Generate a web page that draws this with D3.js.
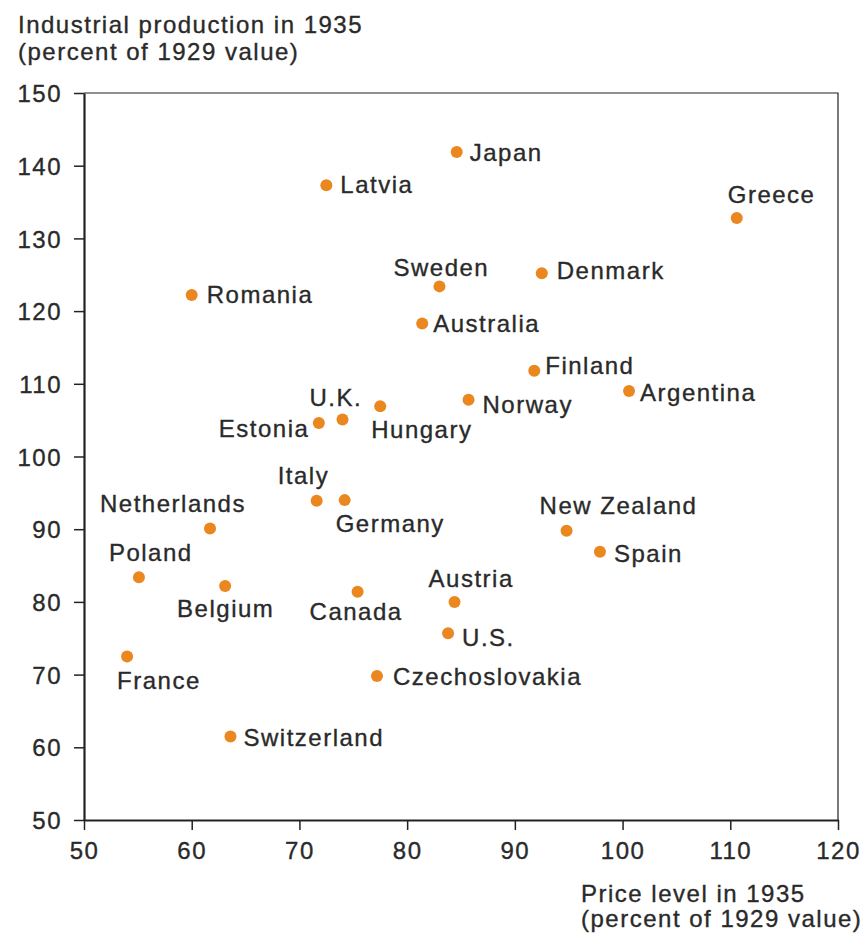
<!DOCTYPE html>
<html>
<head>
<meta charset="utf-8">
<script src="https://cdn.jsdelivr.net/npm/d3@7"></script>
<style>
    body { margin: 0; background: #fff; }
    svg text {
        font-family: "Liberation Sans", Arial, Helvetica, sans-serif;
        font-size: 24px;
        letter-spacing: 1.5px;
        fill: #2a2a2a;
        stroke: #2a2a2a;
        stroke-width: 0.35px;
    }
</style>
</head>
<body>
<svg id="viz_scatter"></svg>
<script>
// Values
var countries = ["Japan", "Latvia", "Greece", "Sweden", "Denmark", "Romania", "Australia",
    "Finland", "Argentina", "Norway", "Hungary", "U.K.", "Estonia", "Italy", "Germany",
    "Netherlands", "New Zealand", "Spain", "Poland", "Belgium", "Canada", "Austria",
    "U.S.", "France", "Czechoslovakia", "Switzerland"];

var price_level = [84.6, 72.5, 110.6, 83.0, 92.5, 60.0, 81.4,
    91.8, 100.6, 85.7, 77.5, 74.0, 71.8, 71.6, 74.2,
    61.7, 94.8, 97.9, 55.1, 63.1, 75.4, 84.4,
    83.8, 54.0, 77.2, 63.6];

var production = [141.9, 137.3, 132.8, 123.4, 125.2, 122.2, 118.3,
    111.8, 109.0, 107.8, 106.9, 105.1, 104.6, 93.9, 94.0,
    90.1, 89.8, 86.9, 83.4, 82.2, 81.4, 80.0,
    75.7, 72.5, 69.8, 61.5];

var x_ticks = [50, 60, 70, 80, 90, 100, 110, 120];
var y_ticks = [50, 60, 70, 80, 90, 100, 110, 120, 130, 140, 150];

var y_title = ["Industrial production in 1935", "(percent of 1929 value)"];
var x_title = ["Price level in 1935", "(percent of 1929 value)"];

// label placement, offset of text start/baseline from the dot
var label_offset = {
    "Japan": [13, 9], "Latvia": [14, 8], "Greece": [-9, -15], "Sweden": [-46, -10],
    "Denmark": [15, 6], "Romania": [15, 8], "Australia": [11, 9], "Finland": [11, 3],
    "Argentina": [11, 10], "Norway": [14, 13], "Hungary": [-9, 32], "U.K.": [-33, -13],
    "Estonia": [-100, 14], "Italy": [-39, -17], "Germany": [-9, 32], "Netherlands": [-110, -16],
    "New Zealand": [-27, -17], "Spain": [14, 10], "Poland": [-30, -16], "Belgium": [-48, 31],
    "Canada": [-48, 28], "Austria": [-26, -15], "U.S.": [14, 13], "France": [-10, 33],
    "Czechoslovakia": [16, 9], "Switzerland": [13, 10]
};

var width = 865,
    height = 938;
var margin = ({top: 93, right: 27, bottom: 118, left: 84});

var data = countries.map((name, i) => ({
    "name": name,
    "price": price_level[i],
    "prod": production[i]
}));

var x = d3.scaleLinear()
    .domain([50, 120])
    .range([margin.left, width - margin.right]);

var y = d3.scaleLinear()
    .domain([50, 150])
    .range([height - margin.bottom, margin.top]);

var svg = d3.select("#viz_scatter")
    .attr("width", width)
    .attr("height", height);

// frame: thin top/right, heavier axes
svg.append("path")
    .attr("d", `M${x(50)},${y(150)}H${x(120)}V${y(50)}`)
    .attr("fill", "none")
    .attr("stroke", "#222")
    .attr("stroke-width", 1.2);

var xAxis = g => g
    .attr("transform", `translate(0,${y(50)})`)
    .call(d3.axisBottom(x).tickValues(x_ticks).tickSize(10).tickPadding(12).tickSizeOuter(0))
    .call(g => g.select(".domain").attr("stroke", "#222").attr("stroke-width", 2.2))
    .call(g => g.selectAll(".tick line").attr("stroke", "#222").attr("stroke-width", 1.5))
    .attr("font-size", null)
    .attr("font-family", null);

var yAxis = g => g
    .attr("transform", `translate(${x(50)},0)`)
    .call(d3.axisLeft(y).tickValues(y_ticks).tickSize(10).tickPadding(12).tickSizeOuter(0))
    .call(g => g.select(".domain").attr("stroke", "#222").attr("stroke-width", 2.2))
    .call(g => g.selectAll(".tick line").attr("stroke", "#222").attr("stroke-width", 1.5))
    .call(g => g.selectAll(".tick text").attr("dy", "0.36em"))
    .attr("font-size", null)
    .attr("font-family", null);

svg.append("g").call(xAxis);
svg.append("g").call(yAxis);

// axis titles
svg.append("g")
    .selectAll("text")
    .data(y_title)
    .enter()
    .append("text")
        .attr("x", 18)
        .attr("y", (d, i) => 33 + i * 27)
        .text(d => d);

svg.append("g")
    .selectAll("text")
    .data(x_title)
    .enter()
    .append("text")
        .attr("x", 581)
        .attr("y", (d, i) => 902 + i * 25)
        .text(d => d);

svg.append("g")
    .selectAll("circle")
    .data(data)
    .enter()
    .append("circle")
        .attr("cx", d => x(d.price))
        .attr("cy", d => y(d.prod))
        .attr("r", 6)
        .attr("fill", "#ea871f");

svg.append("g")
    .selectAll("text")
    .data(data)
    .enter()
    .append("text")
        .attr("x", d => x(d.price) + label_offset[d.name][0])
        .attr("y", d => y(d.prod) + label_offset[d.name][1])
        .text(d => d.name);
</script>
</body>
</html>
